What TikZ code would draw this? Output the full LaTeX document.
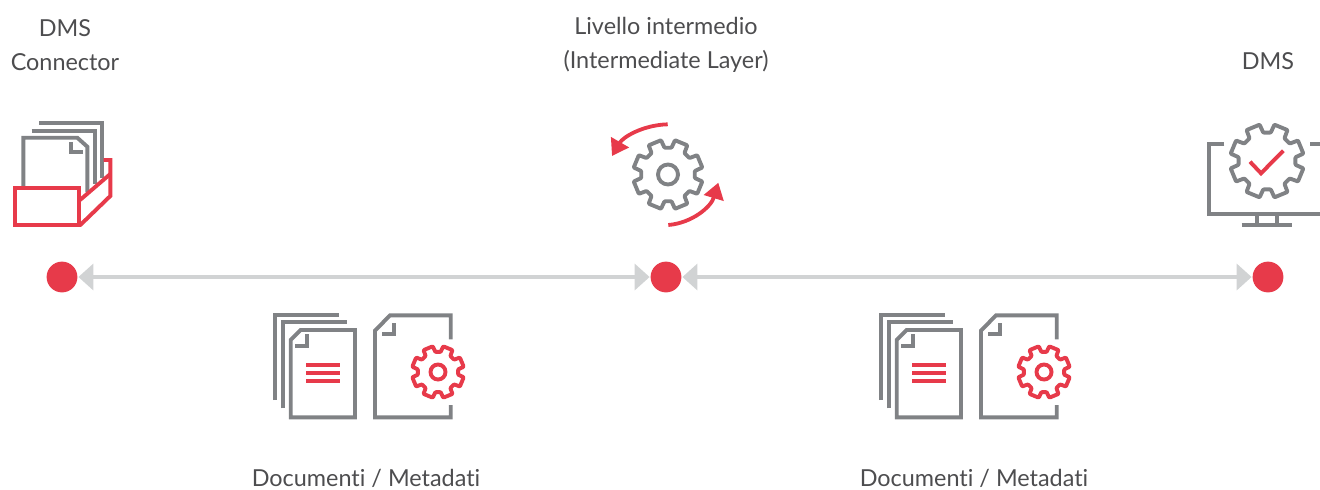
\documentclass[tikz,border=0pt]{standalone}
\usepackage{fontspec}
\setmainfont{Lato}[Ligatures=NoCommon]
\usetikzlibrary{arrows.meta}
\definecolor{litered}{HTML}{E73A4A}
\definecolor{icongray}{HTML}{808285}
\definecolor{linegray}{HTML}{D1D3D4}
\definecolor{textgray}{HTML}{4D4D4F}
\tikzset{
    iconline/.style={line width=1.95pt,color=icongray,line join=miter},
    redline/.style={line width=1.95pt,color=litered,line join=miter},
    reddot/.style={circle,fill=litered,inner sep=0pt,minimum size=15.4pt},
    linkarrow/.style={line width=1.8pt,color=linegray,{Triangle[length=7.5pt,width=13pt]}-{Triangle[length=7.5pt,width=13pt]},shorten <=0.3pt,shorten >=0.3pt},
    turnarrow/.style={line width=1.9pt,color=litered,-{Triangle[length=8pt,width=10pt]}},
    label/.style={color=textgray,font=\fontsize{11.7}{16.75}\selectfont,align=center,inner sep=0pt}
}
% cog: centre x, centre y, scale, style
\newcommand{\cogwheel}[4]{
    \begin{scope}[shift={(#1,#2)},scale=#3]
    \draw [#4,line join=round,rounded corners=0.4pt] (7.5:27) \foreach \a in {22.5,67.5,...,337.5} {
        -- ({\a-15}:27) -- ({\a-11}:35) -- ({\a+11}:35) -- ({\a+15}:27)} -- cycle;
    \end{scope}
}
\newcommand{\cogwheelhub}[4]{
    \cogwheel{#1}{#2}{#3}{#4}
    \begin{scope}[shift={(#1,#2)},scale=#3]
    \draw [#4] (0,0) circle (10);
    \end{scope}
}
% paper stack and gear document
\newcommand{\docgroup}[1]{
    \begin{scope}[xshift=#1*0.5pt]
    \draw [iconline] (275.3,400) -- (275.3,314.7) -- (339,314.7);
    \draw [iconline] (283,408.3) -- (283,322.3) -- (346.7,322.3);
    \draw [iconline] (290.7,417.3) -- (290.7,340) -- (300.7,330) -- (355,330) -- (355,417.3) -- cycle;
    \draw [iconline] (295,345.7) -- (306.7,345.7) -- (306.7,334);
    \draw [redline] (306,365) -- (340,365);
    \draw [redline] (306,373) -- (340,373);
    \draw [redline] (306,381) -- (340,381);
    \draw [iconline] (450.7,339.3) -- (450.7,315.3) -- (390,315.3) -- (375,330.7) -- (375,417.3) -- (450.7,417.3) -- (450.7,405);
    \draw [iconline] (382.3,334) -- (394.3,334) -- (394.3,322.7);
    \end{scope}
    \pgfmathsetmacro{\cogx}{438+#1}
    \cogwheelhub{\cogx}{372}{0.75}{redline}
}
\begin{document}
\begin{tikzpicture}[line cap=butt,x=0.5pt,y=-0.5pt]
    \useasboundingbox (0,0) rectangle (1320,489);

    % points on the line
    \node [reddot] (connector) at (62,277) {};
    \node [reddot] (layer) at (666,277) {};
    \node [reddot] (dms) at (1268,277) {};
    \draw [linkarrow] (connector) -- (layer);
    \draw [linkarrow] (layer) -- (dms);

    % titles
    \node [label] (connectorlabel) at (65,45) {DMS\\Connector};
    \node [label] (layerlabel) at (666,45) {Livello intermedio\\(Intermediate Layer)};
    \node [label] (dmslabel) at (1268,61) {DMS};
    \node [label] (docsleft) at (366,478) {Documenti / Metadati};
    \node [label] (docsright) at (974,478) {Documenti / Metadati};

    % folder
    \draw [iconline] (39.3,123.3) -- (102.3,123.3) -- (102.3,178);
    \draw [iconline] (31.7,130.7) -- (95,130.7) -- (95,184);
    \draw [iconline] (23.3,187.3) -- (23.3,137.7) -- (77.3,137.7) -- (87.3,146.7) -- (87.3,192);
    \draw [iconline] (70.7,142.3) -- (70.7,152.3) -- (82.7,152.3);
    \draw [redline] (15.3,188.3) rectangle (79.3,225.3);
    \draw [redline] (80,200) -- (110.3,174);
    \draw [redline] (103.7,160) -- (110.3,160) -- (110.3,196) -- (80,225.3);

    % middle cog
    \cogwheelhub{668}{174.5}{1}{iconline}
    \coordinate (turnastart) at (667.7,124.3);
    \coordinate (turnaend) at (612,156);
    \coordinate (turnbstart) at (668.3,225);
    \coordinate (turnbend) at (718.3,182.7);
    \draw [turnarrow] (turnastart) .. controls (643,125) and (623,137) .. (turnaend);
    \draw [turnarrow] (turnbstart) .. controls (692,223) and (711,207) .. (turnbend);

    % monitor
    \cogwheel{1267}{161}{1.06}{iconline}
    \draw [iconline] (1224.3,144) -- (1208.7,144) -- (1208.7,214) -- (1320,214);
    \draw [iconline] (1310,144) -- (1320,144);
    \draw [iconline] (1256.7,214) -- (1256.7,225.3);
    \draw [iconline] (1277.3,214) -- (1277.3,225.3);
    \draw [iconline] (1241.7,225.3) -- (1291.7,225.3);
    \draw [redline] (1250,161.7) -- (1261,173.3) -- (1283.3,150.7);

    % documents
    \docgroup{0}
    \docgroup{606}
\end{tikzpicture}
\end{document}
